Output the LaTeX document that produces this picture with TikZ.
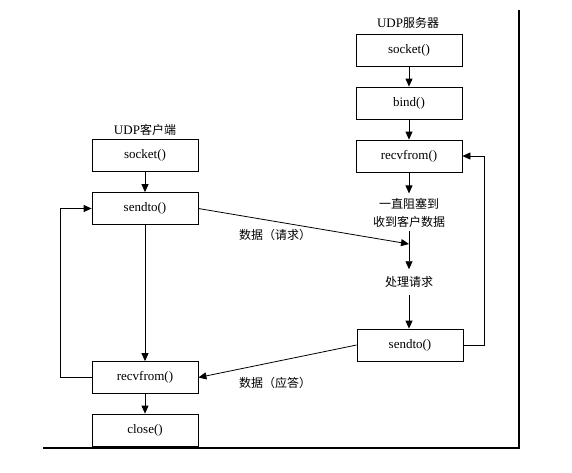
\documentclass[tikz,border=0pt]{standalone}
\usepackage{fontspec}
\setmainfont{Liberation Serif}
\newfontfamily\cjk{Noto Sans CJK SC}
\usetikzlibrary{arrows.meta}
\begin{document}
\begin{tikzpicture}[x=1pt,y=-1pt,
  every node/.style={font=\fontsize{13}{15}\selectfont},
  fbox/.style={draw,line width=0.8pt,minimum width=106pt,minimum height=32pt,inner sep=0pt},
  lbl/.style={inner sep=0pt,font=\fontsize{12}{18}\selectfont\cjk,align=center},
  arr/.style={line width=0.8pt,-{Triangle[length=8pt,width=7pt]}},
  ln/.style={line width=0.8pt}]
\useasboundingbox (0,0) rectangle (572,472);
\fill[white] (0,0) rectangle (572,472);
% server column
\node (stitle) at (408,23) {UDP{\cjk\fontsize{12}{15}\selectfont 服务器}};
\node[fbox] (ssock) at (409,50) {socket()};
\node[fbox] (sbind) at (409,103) {bind()};
\node[fbox] (srecv) at (409,156) {recvfrom()};
\node[lbl] (wait) at (409,213) {一直阻塞到\\收到客户数据};
\coordinate (mid) at (409,244);
\node[lbl] (proc) at (409,282) {处理请求};
\node[fbox] (ssend) at (410,345) {sendto()};
% client column
\node (ctitle) at (145,130) {UDP{\cjk\fontsize{12}{15}\selectfont 客户端}};
\node[fbox] (csock) at (145,155) {socket()};
\node[fbox] (csend) at (145,208.5) {sendto()};
\node[fbox] (crecv) at (145,377.5) {recvfrom()};
\node[fbox] (cclose) at (145,430) {close()};
% labels
\node[lbl] (req) at (275,235) {数据（请求）};
\node[lbl] (resp) at (275,383) {数据（应答）};
% server arrows
\draw[arr] (ssock) -- (sbind);
\draw[arr] (sbind) -- (srecv);
\draw[arr] (srecv.south) -- ++(0,21);
\draw[arr,shorten <=3pt,shorten >=7pt] (wait.south) -- (proc.north);
\draw[arr,shorten <=7pt] (proc.south) -- (proc.south |- ssend.north);
\draw[arr] (ssend.east) -- ++(21,0) |- (srecv.east);
% client arrows
\draw[arr] (csock) -- (csend);
\draw[arr] (csend) -- (crecv);
\draw[arr] (crecv) -- (cclose);
\draw[arr] (crecv.west) -- ++(-31,0) |- (csend.west);
% exchange arrows
\draw[arr] (csend.east) -- (mid);
\draw[arr] (ssend.west) -- (crecv.east);
% frame
\draw[line width=2pt] (519,10) -- (519,448) -- (43,448);
\end{tikzpicture}
\end{document}
